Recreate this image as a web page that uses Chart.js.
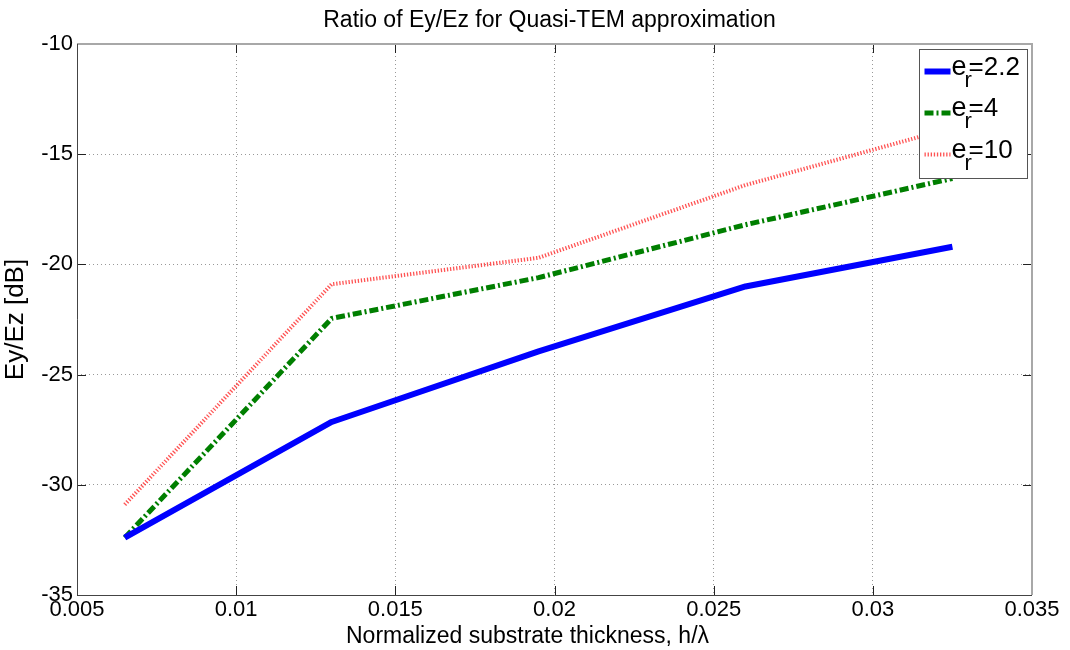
<!DOCTYPE html>
<html>
<head>
<meta charset="utf-8">
<script src="https://cdn.jsdelivr.net/npm/chart.js@4/dist/chart.umd.min.js"></script>
<style>
  html, body { margin: 0; padding: 0; background: #fff; }
  #wrap { width: 1070px; height: 650px; }
</style>
</head>
<body>
<div id="wrap"><canvas id="myChart" width="1070" height="650"></canvas></div>
<script>
// values
const xValues = [0.0065, 0.013, 0.0195, 0.026, 0.0325];
const er22 = [-32.4, -27.15, -23.95, -21.0, -19.2];
const er4 = [-32.4, -22.45, -20.6, -18.2, -16.1];
const er10 = [-30.9, -20.9, -19.7, -16.4, -13.8];
const legendValues = ["2.2", "4", "10"];
const xTicks = [0.005, 0.01, 0.015, 0.02, 0.025, 0.03, 0.035];
const yTicks = [-35, -30, -25, -20, -15, -10];
const titleText = "Ratio of Ey/Ez for Quasi-TEM approximation";
const xTitleText = "Normalized substrate thickness, h/λ";
const yTitleText = "Ey/Ez [dB]";

const FONT = "'Liberation Sans', Arial, sans-serif";

function toPoints(ys) {
  return xValues.map((x, i) => ({ x: x, y: ys[i] }));
}

// frame + inward tick marks, like matlab axes
const framePlugin = {
  id: "frame",
  afterDatasetsDraw(chart) {
    const { ctx, chartArea: a, scales } = chart;
    ctx.save();
    ctx.strokeStyle = "#222";
    ctx.lineWidth = 1;
    xTicks.forEach((v) => {
      const px = Math.round(scales.x.getPixelForValue(v)) + 0.5;
      ctx.beginPath();
      ctx.moveTo(px, a.bottom); ctx.lineTo(px, a.bottom - 9);
      ctx.moveTo(px, a.top); ctx.lineTo(px, a.top + 9);
      ctx.stroke();
    });
    yTicks.forEach((v) => {
      const py = Math.round(scales.y.getPixelForValue(v)) + 0.5;
      ctx.beginPath();
      ctx.moveTo(a.left, py); ctx.lineTo(a.left + 9, py);
      ctx.moveTo(a.right, py); ctx.lineTo(a.right - 9, py);
      ctx.stroke();
    });
    ctx.strokeStyle = "#a8a8a8";
    ctx.lineWidth = 2;
    ctx.beginPath();
    ctx.moveTo(a.left, a.top); ctx.lineTo(a.right, a.top); ctx.lineTo(a.right, a.bottom);
    ctx.stroke();
    ctx.strokeStyle = "#444";
    ctx.lineWidth = 1;
    ctx.beginPath();
    ctx.moveTo(Math.round(a.left) + 0.5, a.top);
    ctx.lineTo(Math.round(a.left) + 0.5, Math.round(a.bottom) + 0.5);
    ctx.lineTo(a.right, Math.round(a.bottom) + 0.5);
    ctx.stroke();
    ctx.restore();
  }
};

// legend box inside the plot, top right
const legendPlugin = {
  id: "insideLegend",
  afterDatasetsDraw(chart) {
    const { ctx, chartArea: a } = chart;
    const boxW = 108, boxH = 129;
    const bx = a.right - boxW - 4.5, by = a.top + 5.5;
    ctx.save();
    ctx.fillStyle = "#fff";
    ctx.fillRect(bx, by, boxW, boxH);
    ctx.strokeStyle = "#555";
    ctx.lineWidth = 1;
    ctx.strokeRect(bx, by, boxW, boxH);
    chart.data.datasets.forEach((ds, i) => {
      const ly = by + 22 + i * 41.5;
      ctx.beginPath();
      ctx.strokeStyle = ds.borderColor;
      ctx.lineWidth = ds.borderWidth;
      ctx.setLineDash(ds.borderDash || []);
      ctx.moveTo(bx + 5, ly);
      ctx.lineTo(bx + 31, ly);
      ctx.stroke();
      ctx.setLineDash([]);
      ctx.fillStyle = "#000";
      ctx.textBaseline = "alphabetic";
      ctx.textAlign = "left";
      ctx.font = "27px " + FONT;
      const tx = bx + 32;
      ctx.fillText("e", tx, ly + 3);
      const ew = ctx.measureText("e").width;
      ctx.font = "22px " + FONT;
      ctx.fillText("r", tx + ew - 2, ly + 15);
      ctx.font = "26px " + FONT;
      ctx.fillText("=" + legendValues[i], tx + ew + 2, ly + 3);
    });
    ctx.restore();
  }
};

// title and x label, centred the way the original is
const textPlugin = {
  id: "texts",
  afterDraw(chart) {
    const { ctx, chartArea: a } = chart;
    ctx.save();
    ctx.fillStyle = "#000";
    ctx.textAlign = "center";
    ctx.textBaseline = "alphabetic";
    ctx.font = "23px " + FONT;
    ctx.fillText(titleText, (a.left + a.right) / 2 - 5, 27);
    ctx.font = "23px " + FONT;
    ctx.fillText(xTitleText, (a.left + a.right) / 2 - 27, 643);
    ctx.restore();
  }
};

const ctx = document.getElementById("myChart").getContext("2d");
const chart = new Chart(ctx, {
  type: "line",
  data: {
    datasets: [
      {
        label: "e_r=" + legendValues[0],
        data: toPoints(er22),
        borderColor: "#0000ff",
        borderWidth: 6,
      },
      {
        label: "e_r=" + legendValues[1],
        data: toPoints(er4),
        borderColor: "#007f00",
        borderWidth: 5,
        borderDash: [9, 3, 2, 3],
      },
      {
        label: "e_r=" + legendValues[2],
        data: toPoints(er10),
        borderColor: "rgba(255, 40, 40, 0.8)",
        borderWidth: 4,
        borderDash: [1.3, 1.8],
      },
    ],
  },
  options: {
    responsive: false,
    animation: false,
    layout: { padding: { left: 0, right: 38, top: 44, bottom: 0 } },
    elements: {
      point: { radius: 0 },
      line: { tension: 0, fill: false, borderCapStyle: "butt", borderJoinStyle: "round" },
    },
    plugins: {
      legend: { display: false },
      tooltip: { enabled: false },
      title: { display: false },
    },
    scales: {
      x: {
        type: "linear",
        min: 0.005,
        max: 0.035,
        afterBuildTicks(scale) {
          scale.ticks = xTicks.map((v) => ({ value: v }));
        },
        afterFit(scale) { scale.height = 55; },
        ticks: {
          color: "#000",
          padding: 2,
          maxRotation: 0,
          font: { family: FONT, size: 22 },
          callback: (v) => String(Number(v.toFixed(3))),
        },
        grid: { color: "#999", lineWidth: 1, drawTicks: false },
        border: { display: false, dash: [1, 3] },
        title: { display: false },
      },
      y: {
        type: "linear",
        min: -35,
        max: -10,
        afterBuildTicks(scale) {
          scale.ticks = yTicks.map((v) => ({ value: v }));
        },
        afterFit(scale) { scale.width = 77; },
        ticks: {
          color: "#000",
          padding: 4,
          font: { family: FONT, size: 22 },
        },
        grid: { color: "#999", lineWidth: 1, drawTicks: false },
        border: { display: false, dash: [1, 3] },
        title: {
          display: true,
          text: yTitleText,
          color: "#000",
          font: { family: FONT, size: 26 },
          padding: { top: 0, bottom: 0 },
        },
      },
    },
  },
  plugins: [framePlugin, legendPlugin, textPlugin],
});
</script>
</body>
</html>
